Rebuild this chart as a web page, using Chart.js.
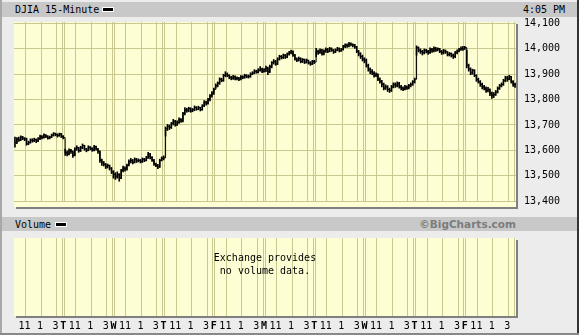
<!DOCTYPE html>
<html>
<head>
<meta charset="utf-8">
<script src="https://cdn.jsdelivr.net/npm/chart.js@4/dist/chart.umd.min.js"></script>
<style>
html, body { margin: 0; padding: 0; }
body { width: 579px; height: 335px; overflow: hidden; position: relative; background: #ececec;
       font-family: "DejaVu Sans Mono", monospace; font-size: 10px; color: #000; }
.abs { position: absolute; }
.bar { background: #c8c8c8; }
.panel { background: #fefed4; box-shadow: 2px 2px 0 #808080; }
.swatch { background: #000; border: 1px solid #fff; width: 10px; height: 3px; }
canvas { position: absolute; left: 0; }
</style>
</head>
<body>
<div class="abs" style="left:0;top:0;width:2px;height:335px;background:#a8a8a8"></div>
<div class="abs" style="right:0;top:0;width:2px;height:335px;background:#333"></div>
<div class="abs" style="left:0;bottom:0;width:579px;height:2px;background:#888"></div>

<div class="abs bar" style="left:2px;top:2px;width:575px;height:15px"></div>
<div class="abs" style="left:15px;top:3px;line-height:13px">DJIA 15-Minute</div>
<div class="abs swatch" style="left:102px;top:7px"></div>
<div class="abs" style="left:523px;top:3px;line-height:13px">4:05 PM</div>

<div class="abs panel" style="left:14px;top:22px;width:502px;height:185px"></div>

<div class="abs bar" style="left:2px;top:217px;width:575px;height:14px"></div>
<div class="abs" style="left:15px;top:218px;line-height:13px">Volume</div>
<div class="abs swatch" style="left:55px;top:222px"></div>
<div class="abs" style="right:63px;top:218px;line-height:13px;font-family:'DejaVu Sans',sans-serif;font-weight:bold;font-size:10.5px;color:#7c7c7c">©BigCharts.com</div>

<div class="abs panel" style="left:14px;top:238px;width:502px;height:78px"></div>

<canvas id="priceChart" width="579" height="215" style="top:0"></canvas>
<canvas id="volumeChart" width="579" height="100" style="top:232px"></canvas>

<div class="abs" style="left:14px;top:251px;width:502px;text-align:center;line-height:13px">Exchange provides<br>no volume data.</div>

<script>
'use strict';

// 15-minute bars, 26 per session, ten sessions
const closes = [
    13630, 13645, 13640, 13652, 13648, 13645, 13625, 13630, 13640, 13638, 13642, 13636, 13645, 13655, 13650, 13660, 13655, 13648, 13652, 13660, 13665, 13662, 13658, 13665, 13655, 13650,
    13590, 13585, 13600, 13595, 13580, 13605, 13610, 13598, 13610, 13618, 13605, 13600, 13612, 13608, 13600, 13615, 13605, 13595, 13560, 13550, 13545, 13535, 13540, 13530, 13515, 13505,
    13495, 13505, 13490, 13520, 13530, 13525, 13540, 13555, 13560, 13552, 13565, 13558, 13560, 13555, 13565, 13560, 13570, 13585, 13572, 13560, 13545, 13540, 13535, 13560, 13568, 13570,
    13685, 13695, 13690, 13705, 13715, 13700, 13710, 13722, 13715, 13745, 13760, 13758, 13765, 13755, 13760, 13770, 13762, 13768, 13760, 13775, 13790, 13785, 13800, 13815, 13825, 13840,
    13855, 13865, 13880, 13875, 13895, 13900, 13895, 13888, 13885, 13890, 13882, 13886, 13880, 13890, 13888, 13895, 13890, 13892, 13900, 13905, 13912, 13908, 13915, 13920, 13910, 13918,
    13925, 13910, 13930, 13945, 13950, 13940, 13960, 13970, 13965, 13975, 13968, 13980, 13985, 13990, 13975, 13960, 13955, 13962, 13950, 13958, 13948, 13955, 13945, 13940, 13950, 13948,
    13990, 13985, 13995, 13980, 13992, 13998, 13990, 14000, 13995, 13988, 13995, 14000, 13992, 13998, 14010, 14015, 14012, 14020, 14018, 14015, 14008, 13990, 13980, 13970, 13960, 13955,
    13935, 13920, 13910, 13905, 13895, 13900, 13880, 13870, 13860, 13845, 13850, 13840, 13835, 13850, 13860, 13855, 13865, 13850, 13845, 13840, 13850, 13845, 13855, 13860, 13870, 13880,
    14005, 13995, 13990, 13985, 13995, 13990, 13985, 13998, 13992, 14002, 13995, 14000, 13990, 13985, 13992, 13988, 13978, 13982, 13975, 13970, 13985, 13992, 13998, 14002, 14000, 14005,
    13935, 13920, 13905, 13915, 13895, 13880, 13870, 13860, 13850, 13845, 13835, 13840, 13825, 13815, 13820, 13830, 13845, 13855, 13860, 13875, 13885, 13880, 13890, 13870, 13860, 13855
];
const highs = [
    13652, 13650, 13652, 13657, 13655, 13650, 13648, 13636, 13645, 13646, 13648, 13645, 13650, 13660, 13658, 13665, 13662, 13658, 13656, 13664, 13670, 13668, 13665, 13668, 13666, 13658,
    13605, 13598, 13606, 13604, 13598, 13610, 13618, 13612, 13616, 13625, 13620, 13608, 13618, 13615, 13610, 13620, 13617, 13608, 13598, 13565, 13556, 13548, 13546, 13542, 13532, 13520,
    13512, 13515, 13508, 13525, 13538, 13535, 13546, 13562, 13568, 13564, 13570, 13568, 13566, 13564, 13570, 13568, 13576, 13592, 13588, 13575, 13564, 13550, 13545, 13565, 13574, 13578,
    13692, 13702, 13700, 13710, 13722, 13718, 13716, 13728, 13725, 13750, 13768, 13766, 13770, 13768, 13765, 13775, 13772, 13774, 13770, 13780, 13796, 13794, 13805, 13820, 13832, 13845,
    13862, 13870, 13886, 13884, 13900, 13910, 13905, 13898, 13892, 13896, 13894, 13890, 13888, 13895, 13894, 13900, 13898, 13897, 13906, 13910, 13918, 13916, 13922, 13930, 13924, 13922,
    13932, 13928, 13936, 13950, 13958, 13955, 13965, 13975, 13974, 13980, 13978, 13984, 13990, 13995, 13992, 13978, 13965, 13968, 13965, 13962, 13960, 13960, 13956, 13950, 13955, 13955,
    14002, 13995, 14000, 13998, 13996, 14004, 14002, 14006, 14004, 13998, 14000, 14006, 14004, 14002, 14014, 14020, 14020, 14026, 14024, 14020, 14018, 14010, 13994, 13985, 13975, 13965,
    13960, 13940, 13925, 13918, 13910, 13906, 13902, 13886, 13876, 13865, 13858, 13855, 13845, 13856, 13866, 13866, 13870, 13868, 13856, 13850, 13856, 13854, 13860, 13866, 13875, 13885,
    14012, 14008, 14000, 13994, 14000, 13998, 13994, 14004, 14002, 14008, 14006, 14004, 14002, 13994, 13998, 13996, 13990, 13986, 13984, 13980, 13990, 13996, 14002, 14008, 14010, 14010,
    13995, 13940, 13925, 13920, 13918, 13898, 13885, 13875, 13865, 13856, 13850, 13848, 13842, 13830, 13828, 13836, 13850, 13860, 13866, 13880, 13892, 13892, 13896, 13892, 13875, 13865
];
const lows = [
    13612, 13626, 13635, 13638, 13642, 13638, 13620, 13622, 13628, 13632, 13634, 13630, 13634, 13642, 13645, 13648, 13650, 13644, 13645, 13650, 13656, 13657, 13652, 13655, 13650, 13645,
    13580, 13578, 13582, 13588, 13572, 13578, 13600, 13592, 13595, 13606, 13600, 13594, 13598, 13602, 13596, 13598, 13600, 13588, 13552, 13540, 13538, 13528, 13530, 13522, 13508, 13490,
    13485, 13490, 13478, 13488, 13515, 13518, 13522, 13538, 13550, 13546, 13550, 13552, 13554, 13550, 13552, 13555, 13558, 13568, 13566, 13556, 13540, 13535, 13528, 13532, 13558, 13562,
    13656, 13678, 13682, 13686, 13700, 13695, 13698, 13706, 13710, 13712, 13740, 13750, 13752, 13750, 13752, 13756, 13758, 13760, 13755, 13758, 13772, 13778, 13782, 13795, 13810, 13820,
    13845, 13850, 13860, 13870, 13872, 13890, 13890, 13882, 13878, 13880, 13878, 13878, 13875, 13878, 13882, 13884, 13886, 13885, 13888, 13898, 13902, 13904, 13905, 13912, 13906, 13908,
    13910, 13898, 13906, 13925, 13940, 13935, 13938, 13956, 13960, 13962, 13962, 13965, 13975, 13980, 13970, 13955, 13950, 13952, 13945, 13946, 13942, 13944, 13940, 13935, 13938, 13942,
    13968, 13978, 13982, 13975, 13976, 13986, 13985, 13988, 13990, 13982, 13985, 13992, 13988, 13990, 13995, 14005, 14006, 14008, 14012, 14008, 14002, 13985, 13972, 13962, 13952, 13945,
    13928, 13912, 13902, 13898, 13888, 13890, 13875, 13865, 13850, 13838, 13840, 13832, 13828, 13832, 13846, 13848, 13850, 13845, 13838, 13835, 13838, 13840, 13842, 13850, 13856, 13865,
    13975, 13988, 13982, 13976, 13980, 13984, 13978, 13982, 13986, 13988, 13990, 13992, 13985, 13978, 13980, 13982, 13972, 13972, 13968, 13962, 13965, 13980, 13988, 13994, 13994, 13998,
    13925, 13912, 13898, 13900, 13890, 13872, 13865, 13852, 13842, 13838, 13828, 13830, 13815, 13805, 13808, 13816, 13826, 13840, 13850, 13856, 13870, 13872, 13878, 13865, 13852, 13848
];

const priceTicks = [13400, 13500, 13600, 13700, 13800, 13900, 14000, 14100];
const dayLetters = ['T', 'W', 'T', 'F', 'M', 'T', 'W', 'T', 'F'];
const hourLabels = ['11', '1', '3'];
const hourSlots = [6, 14, 22];      // bar index of 11:00, 13:00, 15:00
const lastSlot = 25;                // 15:45 bar
const barsPerDay = 26;
const priceMin = 13400;
const priceMax = 14106;

const gridColor = '#c9c98f';
const monoFamily = '"DejaVu Sans Mono", monospace';

// x ticks: hour lines, double line at each session change
let xTicks = [];
let tickText = {};
let boldTicks = new Set();
for (let d = 0; d <= dayLetters.length; d++) {
    hourSlots.forEach((s, k) => {
        xTicks.push(d * barsPerDay + s);
        tickText[d * barsPerDay + s] = hourLabels[k];
    });
    xTicks.push(d * barsPerDay + lastSlot);
    tickText[d * barsPerDay + lastSlot] = '';
    if (d < dayLetters.length) {
        let v = (d + 1) * barsPerDay;
        xTicks.push(v);
        tickText[v] = dayLetters[d];
        boldTicks.add(v);
    }
}
const totalBars = closes.length;

function setXTicks(scale) {
    scale.ticks = xTicks.map(v => ({ value: v }));
}

new Chart(document.getElementById('priceChart'), {
    type: 'bar',
    data: {
        datasets: [
            {
                type: 'line',
                data: closes.map((c, i) => ({ x: i + 0.5, y: c })),
                borderColor: '#000',
                borderWidth: 1,
                pointRadius: 0,
                stepped: true
            },
            {
                type: 'bar',
                data: highs.map((h, i) => ({ x: i + 0.5, y: [lows[i], h] })),
                backgroundColor: '#000',
                barThickness: 1
            }
        ]
    },
    options: {
        responsive: false,
        animation: false,
        layout: { padding: { left: 14, top: 22, right: 0, bottom: 8 } },
        plugins: { legend: { display: false }, tooltip: { enabled: false } },
        scales: {
            x: {
                type: 'linear',
                min: 0,
                max: totalBars,
                offset: false,
                afterBuildTicks: setXTicks,
                afterFit: s => { s.height = 0; },
                grid: { color: gridColor, drawTicks: false, offset: false },
                border: { display: false },
                ticks: { display: false, autoSkip: false }
            },
            y: {
                position: 'right',
                min: priceMin,
                max: priceMax,
                afterBuildTicks: s => { s.ticks = priceTicks.map(v => ({ value: v })); },
                afterFit: s => { s.width = 63; },
                grid: { color: gridColor, drawTicks: false },
                border: { display: false },
                ticks: {
                    padding: 8,
                    color: '#000',
                    autoSkip: false,
                    font: { family: monoFamily, size: 10 },
                    callback: v => v.toLocaleString('en-US')
                }
            }
        }
    }
});

new Chart(document.getElementById('volumeChart'), {
    type: 'scatter',
    data: { datasets: [] },
    options: {
        responsive: false,
        animation: false,
        layout: { padding: { left: 14, top: 6, right: 63, bottom: 0 } },
        plugins: { legend: { display: false }, tooltip: { enabled: false } },
        scales: {
            x: {
                type: 'linear',
                min: 0,
                max: totalBars,
                afterBuildTicks: setXTicks,
                afterFit: s => { s.height = 16; },
                grid: { color: gridColor, drawTicks: false },
                border: { display: false },
                ticks: {
                    autoSkip: false,
                    maxRotation: 0,
                    padding: 4,
                    labelOffset: -1,
                    color: '#000',
                    font: ctx => ({
                        family: monoFamily,
                        size: 10,
                        weight: ctx.tick && boldTicks.has(ctx.tick.value) ? 'bold' : 'normal'
                    }),
                    callback: v => tickText[v]
                }
            },
            y: { display: false, min: 0, max: 1 }
        }
    }
});
</script>
</body>
</html>
